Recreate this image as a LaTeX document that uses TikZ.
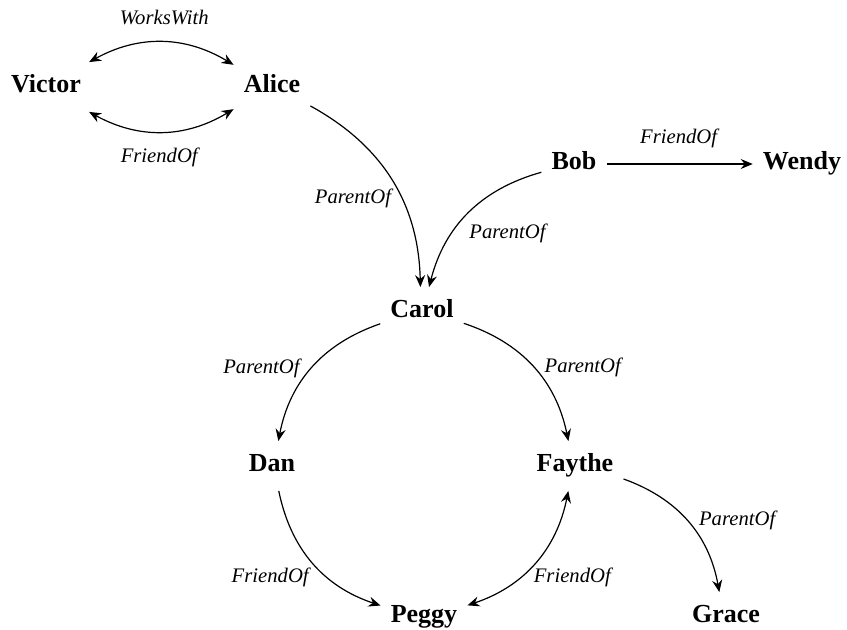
\documentclass[tikz,border=0pt]{standalone}
\usepackage{fontspec}
\setmainfont{Liberation Serif}
\usetikzlibrary{arrows.meta}
\tikzset{
  nd/.style={font=\fontsize{19.5}{23}\selectfont\bfseries, text height=13pt, text depth=4pt, inner xsep=7.5pt, inner ysep=10pt},
  lb/.style={font=\fontsize{15.5}{18}\selectfont\itshape, inner sep=0pt},
  edge/.style={line width=0.9pt},
  >={Stealth[length=9pt,width=7.5pt,inset=3pt]}
}
\begin{document}
\begin{tikzpicture}[x=0.75pt,y=-0.75pt]
\useasboundingbox (0,0) rectangle (847,630);
\node[nd] (Victor) at (46,87) {Victor};
\node[nd] (Alice) at (272,87) {Alice};
\node[nd] (Bob) at (574,164) {Bob};
\node[nd] (Wendy) at (802,164) {Wendy};
\node[nd] (Carol) at (422,312) {Carol};
\node[nd] (Dan) at (272,466) {Dan};
\node[nd] (Faythe) at (575,466) {Faythe};
\node[nd] (Peggy) at (424,617) {Peggy};
\node[nd] (Grace) at (726,617) {Grace};

\draw[edge,<->] (Victor) to[bend left=30] node[lb,pos=0.5,xshift=1.9pt,yshift=18.75pt] {WorksWith} (Alice);
\draw[edge,<->] (Victor) to[bend right=30] node[lb,pos=0.5,xshift=-1.9pt,yshift=-19.5pt] {FriendOf} (Alice);
\draw[edge,->] (Alice) to[bend left=30] node[lb,pos=0.5,xshift=-29.25pt,yshift=-13.5pt] {ParentOf} (Carol);
\draw[edge,->] (Bob) to[bend right=30] node[lb,pos=0.5,xshift=29.4pt,yshift=-15.2pt] {ParentOf} (Carol);
\draw[edge,->] (Bob) -- node[lb,pos=0.5,xshift=-0.75pt,yshift=19.5pt] {FriendOf} (Wendy);
\draw[edge,->] (Carol) to[bend right=30] node[lb,pos=0.5,xshift=-38pt,yshift=-0.9pt] {ParentOf} (Dan);
\draw[edge,->] (Carol) to[bend left=30] node[lb,pos=0.5,xshift=37.1pt,yshift=-0.75pt] {ParentOf} (Faythe);
\draw[edge,->] (Dan) to[bend right=30] node[lb,pos=0.5,xshift=-32pt,yshift=-10.9pt] {FriendOf} (Peggy);
\draw[edge,<->] (Peggy) to[bend right=30] node[lb,pos=0.5,xshift=28.2pt,yshift=-11.2pt] {FriendOf} (Faythe);
\draw[edge,->] (Faythe) to[bend left=30] node[lb,pos=0.5,xshift=36.9pt,yshift=0.6pt] {ParentOf} (Grace);
\end{tikzpicture}
\end{document}
